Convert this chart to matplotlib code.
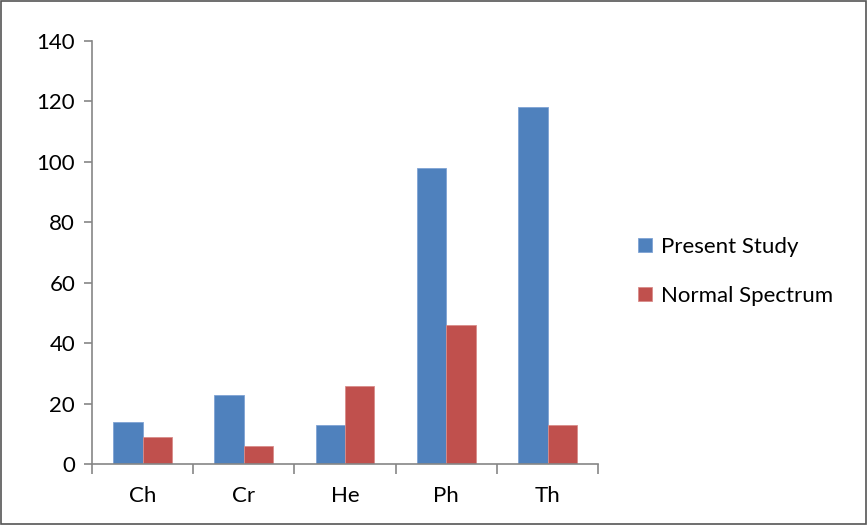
import numpy as np
import matplotlib.pyplot as plt
from matplotlib.patches import Rectangle

categories = ["Ch", "Cr", "He", "Ph", "Th"]
present_study = [14, 23, 13, 98, 118]
normal_spectrum = [9, 6, 26, 46, 13]

plt.rcParams['font.family'] = ['Lato', 'DejaVu Sans']

fig = plt.figure(figsize=(8.67, 5.25), dpi=100)
ax = fig.add_axes([0.106, 0.116, 0.584, 0.806])

x = np.arange(len(categories))
w = 0.29
ax.bar(x - w / 2, present_study, w, color="#4F81BD", edgecolor="#7FA3D4", linewidth=0.6, label="Present Study")
ax.bar(x + w / 2, normal_spectrum, w, color="#C0504D", edgecolor="#D98C8A", linewidth=0.6, label="Normal Spectrum")

ax.set_xlim(-0.5, len(categories) - 0.5)
ax.set_ylim(0, 140)
ax.set_yticks(range(0, 141, 20))
ax.set_xticks(x)
ax.set_xticklabels(categories)
ax.set_xticks(np.arange(-0.5, len(categories), 1), minor=True)

for s in ["top", "right"]:
    ax.spines[s].set_visible(False)
for s in ["left", "bottom"]:
    ax.spines[s].set_color("#868686")
    ax.spines[s].set_linewidth(1.2)

ax.tick_params(axis="x", which="major", length=0, pad=16, labelsize=16)
ax.tick_params(axis="x", which="minor", length=7, color="#868686", width=1.2)
ax.tick_params(axis="y", length=6, color="#868686", width=1.2, labelsize=16, pad=6)

ax.legend(loc="center left", bbox_to_anchor=(1.04, 0.455), frameon=False,
          fontsize=16, handlelength=0.6, handleheight=0.6, handletextpad=0.4,
          labelspacing=1.3)

fig.patches.append(Rectangle((0.001, 0.001), 0.998, 0.997, transform=fig.transFigure,
                             fill=False, edgecolor="#555555", linewidth=1.2))

fig.savefig("out.png", dpi=100)
